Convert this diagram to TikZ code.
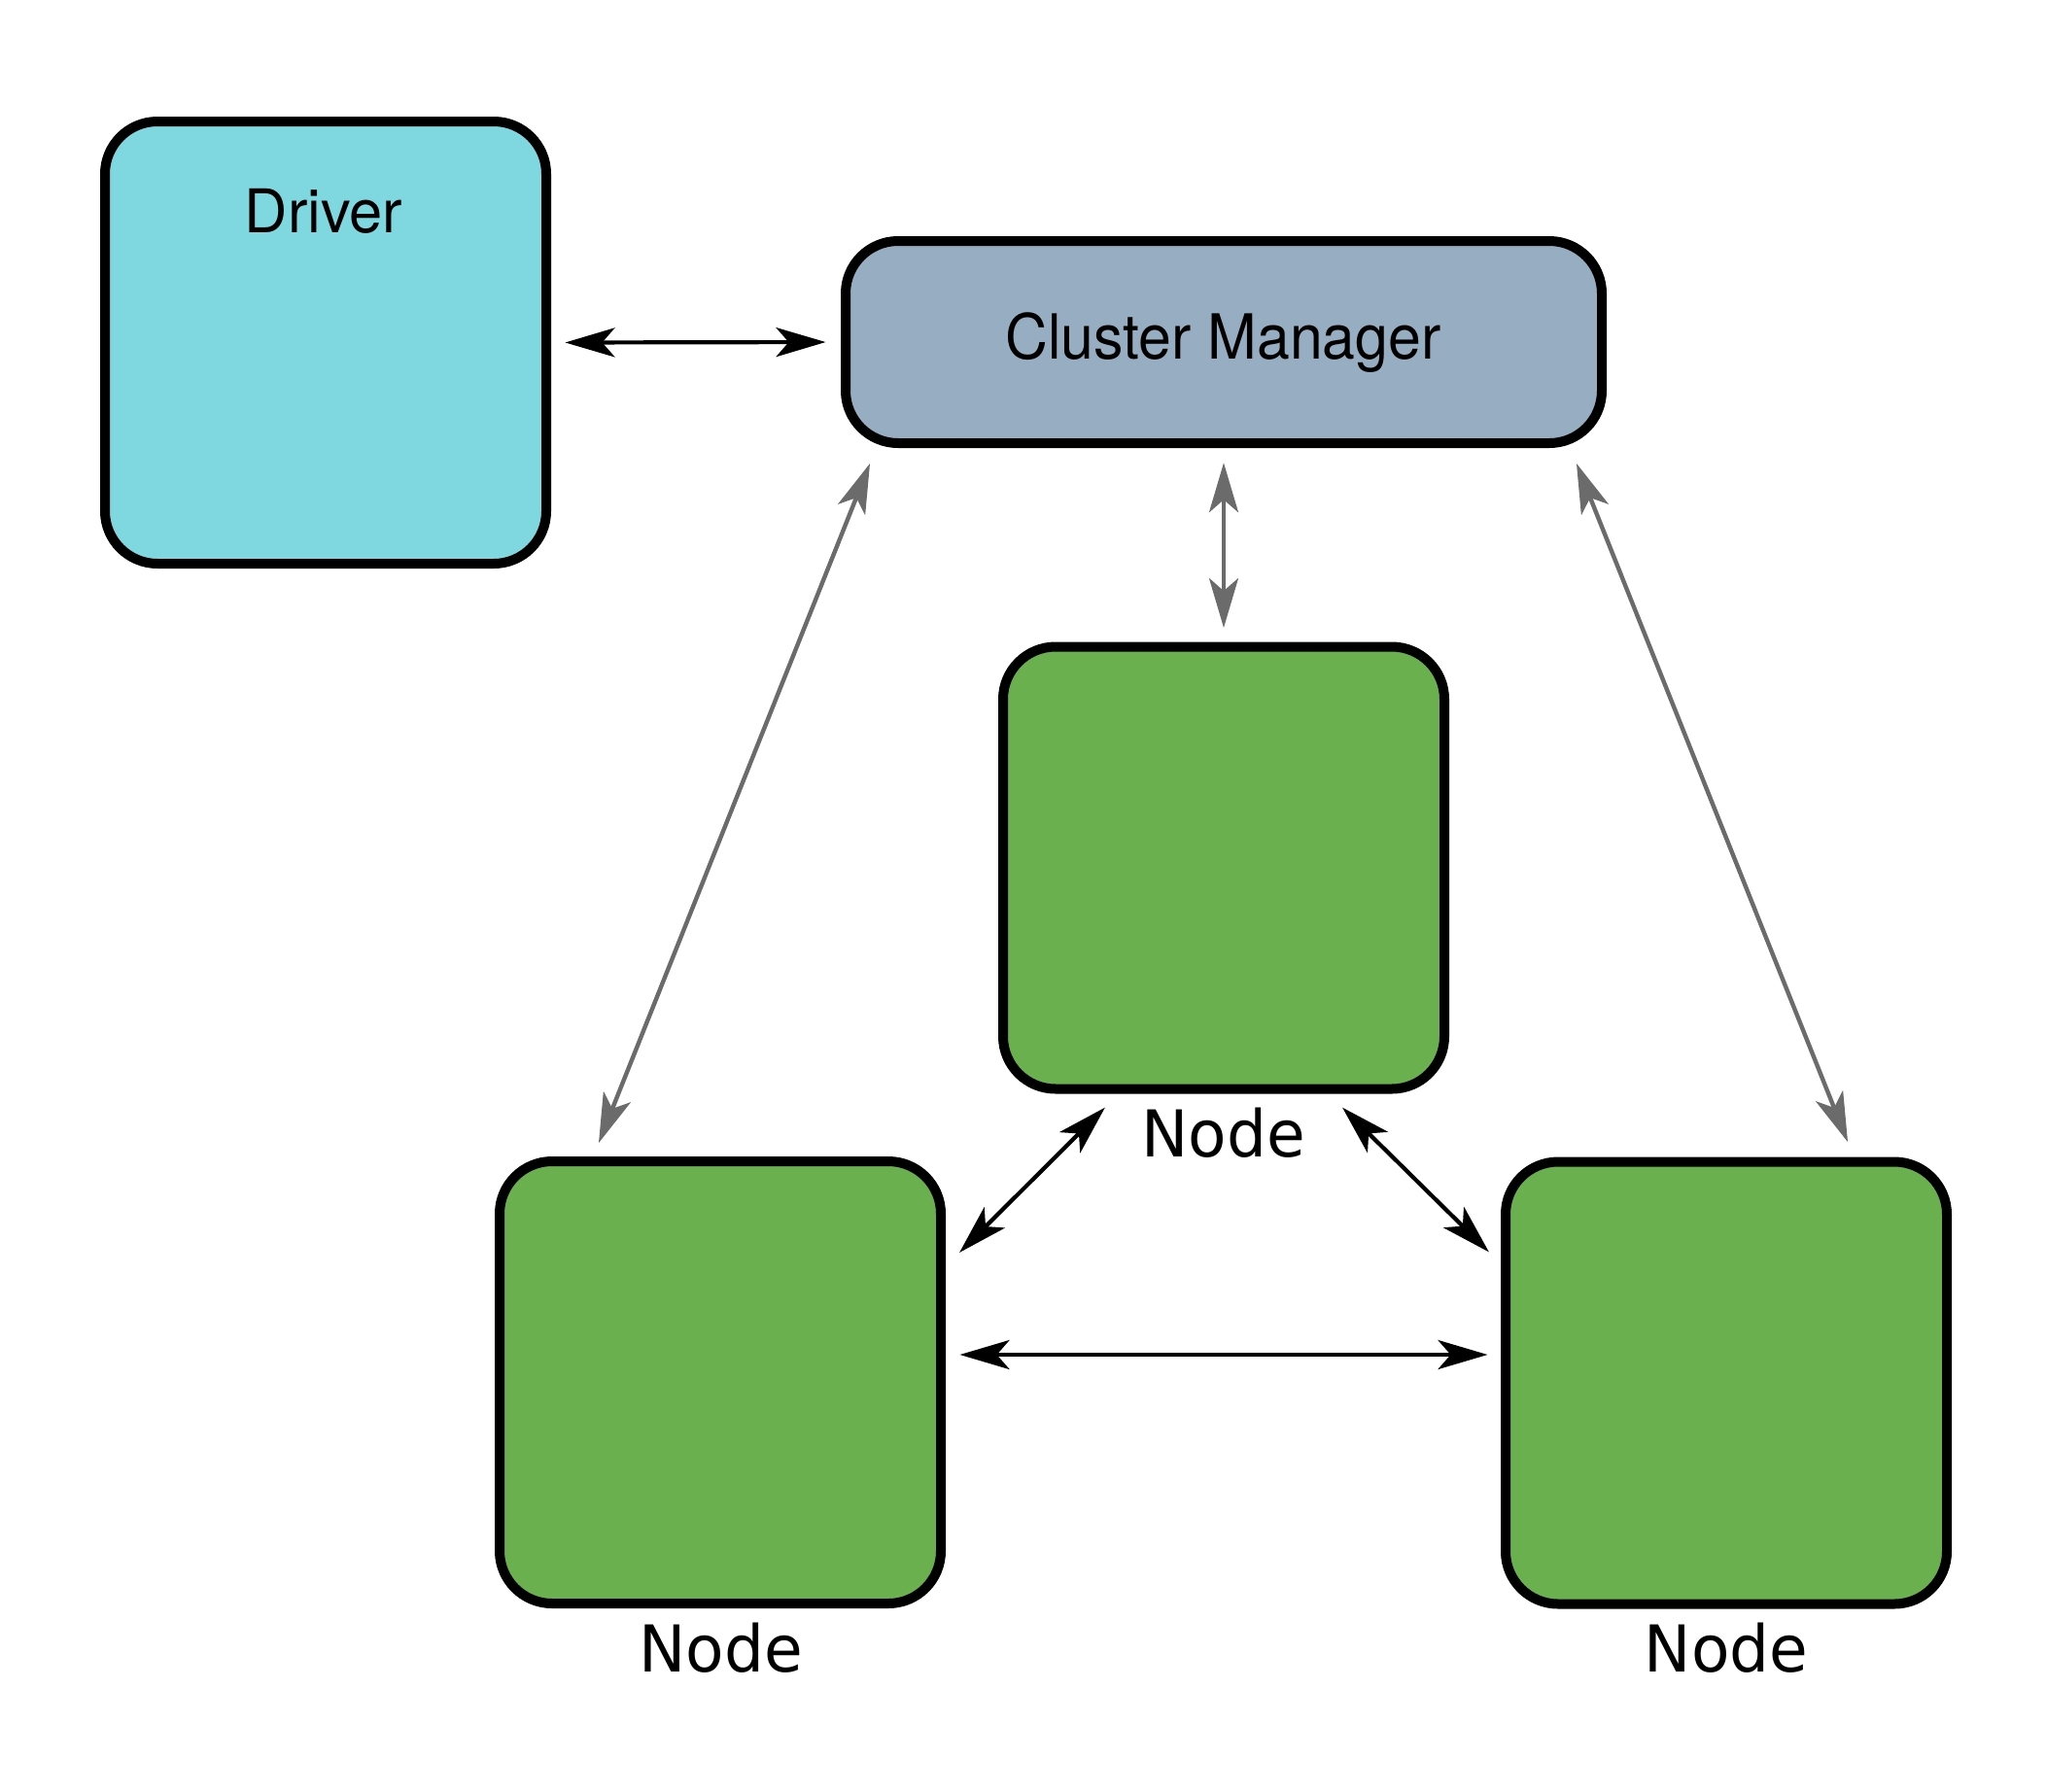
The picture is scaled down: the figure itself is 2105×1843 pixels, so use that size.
\documentclass[tikz,border=0pt]{standalone}
\usepackage{fontspec}
\usetikzlibrary{arrows.meta,calc}
\newfontfamily\helvfont[FakeStretch=0.95]{TeX Gyre Heros}
\newfontfamily\helvwide[FakeStretch=0.99]{TeX Gyre Heros}
\newfontfamily\dvfont[FakeStretch=0.97]{DejaVu Sans}
\definecolor{driverfill}{HTML}{7FD7DF}
\definecolor{clusterfill}{HTML}{97ADC1}
\definecolor{nodegreen}{HTML}{6AB04E}
\definecolor{linkgray}{HTML}{6B6B6B}
\tikzset{
  box/.style={draw=black, line width=5pt, rounded corners=27pt, inner sep=0pt,
    minimum width=227pt, minimum height=227.5pt},
  txt/.style={inner sep=0pt, anchor=base},
  >={Stealth[length=25.5pt,width=15pt,inset=6.5pt]},
  blk/.style={draw=black, line width=2.1pt, <->, shorten <=-2.75pt, shorten >=-2.75pt},
  gry/.style={draw=linkgray, line width=2.2pt, <->, shorten <=-2.75pt, shorten >=-2.75pt},
}
\begin{document}
\begin{tikzpicture}[x=0.5pt,y=-0.5pt]
\useasboundingbox (0,0) rectangle (2105,1843);
% boxes
\node[box, fill=driverfill] (driver) at (335,352.5) {};
\node[box, fill=clusterfill, minimum width=389pt, minimum height=104pt] (cluster) at (1259,352) {};
\node[box, fill=nodegreen] (nodeC) at (1259,893) {};
\node[box, fill=nodegreen] (nodeL) at (741,1422.5) {};
\node[box, fill=nodegreen] (nodeR) at (1776,1423) {};
% texts
\node[txt] (driverlabel) at (333,239) {\helvwide\fontsize{31pt}{37pt}\selectfont Driver};
\node[txt] (clusterlabel) at (1258.5,369) {\helvfont\fontsize{32pt}{38pt}\selectfont Cluster Manager};
\node[txt] (nodeClabel) at (1258.5,1190) {\dvfont\fontsize{33.25pt}{40pt}\selectfont Node};
\node[txt] (nodeLlabel) at (741.5,1720) {\dvfont\fontsize{33.25pt}{40pt}\selectfont Node};
\node[txt] (nodeRlabel) at (1776,1720) {\dvfont\fontsize{33.25pt}{40pt}\selectfont Node};
% connector ends
\coordinate (gL1) at ($(cluster.south west)+(28,21)$);
\coordinate (gL2) at ($(nodeL.north west)+(109,-19)$);
\coordinate (gR1) at ($(cluster.south east)+(-29,21)$);
\coordinate (gR2) at ($(nodeR.north east)+(-109,-20.5)$);
\coordinate (bL1) at ($(nodeC.south west)+(106,18)$);
\coordinate (bL2) at ($(nodeL.north east)+(18,95)$);
\coordinate (bR1) at ($(nodeC.south east)+(-106,18)$);
\coordinate (bR2) at ($(nodeR.north west)+(-16,94)$);
\coordinate (h1) at ($(nodeL.east)+(20,-28.5)$);
\coordinate (h2) at ($(nodeR.west)+(-19,-29)$);
% connectors
\draw[blk, shorten <=7.25pt, shorten >=7.75pt] (driver.east) -- (cluster.west);
\draw[gry, shorten <=7.6pt, shorten >=7.25pt] (cluster.south) -- (nodeC.north);
\draw[gry] (gL1) -- (gL2);
\draw[gry] (gR1) -- (gR2);
\draw[blk] (bL1) -- (bL2);
\draw[blk] (bR1) -- (bR2);
\draw[blk] (h1) -- (h2);
\end{tikzpicture}
\end{document}
